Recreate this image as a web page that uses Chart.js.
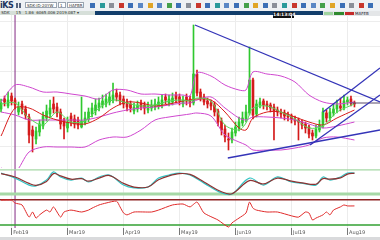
<!DOCTYPE html>
<html>
<head>
<meta charset="utf-8">
<script src="https://cdn.jsdelivr.net/npm/chart.js@4.4.0/dist/chart.umd.min.js"></script>
<style>
  html, body { margin: 0; padding: 0; width: 380px; height: 240px; overflow: hidden; background: #fff; font-family: "DejaVu Sans", Arial, sans-serif; }
  #tb { position: absolute; left: 0; top: 0; width: 380px; height: 11px; background: #eef1f4; }
  #logo { position: absolute; left: 0; top: 1px; font: bold 8px "DejaVu Sans"; color: #1d3560; letter-spacing: -0.5px; }
  .box { position: absolute; top: 2px; height: 6px; background: #fff; border: 1px solid #9aa4b0; font: 4px "DejaVu Sans"; line-height: 6px; color: #333; padding-left: 1px; box-sizing: border-box; overflow: hidden; white-space: nowrap; }
  .ic { position: absolute; top: 3px; width: 5px; height: 5px; }
  #row2 { position: absolute; left: 0; top: 11px; width: 95px; height: 4px; background: #d6dfd9; font: 4px "DejaVu Sans"; line-height: 4px; color: #333; white-space: nowrap; overflow: hidden; }
  #navy { position: absolute; left: 95px; top: 11px; width: 228px; height: 4px; background: #123e6b; }
  #stat { position: absolute; left: 323px; top: 11px; width: 57px; height: 5px; background: #e4e6e8; }
  .sb { position: absolute; top: 1px; height: 3px; }
  #statTxt { position: absolute; left: 355px; top: 11px; font: 4px "DejaVu Sans"; line-height: 5px; color: #223; }
  #clock { position: absolute; left: 273px; top: 12px; width: 21px; height: 6px; background: #111; color: #fff; font: bold 4.5px "DejaVu Sans"; line-height: 6px; text-align: center; }
  canvas { position: absolute; left: 0; }
  #main { top: 15px; }
  #p1 { top: 168px; }
  #p2 { top: 196px; }
  #scroll { position: absolute; left: 0; top: 237px; width: 380px; height: 3px; background: #d9dadc; }
</style>
</head>
<body>
<div id="tb">
  <span id="logo">iKS</span>
  <span class="ic" style="left:16px;width:2px;background:#56637c"></span>
  <span class="ic" style="left:19px;width:2px;background:#56637c"></span>
  <span class="box" style="left:25px;width:32px">SDK-ID-20YW</span>
  <span class="box" style="left:58px;width:8px">1</span>
  <span class="box" style="left:67px;width:17px">HAFBR</span>
</div>
<div id="row2">&nbsp;SDK&nbsp;&nbsp;&nbsp;&nbsp;&nbsp;15&nbsp;&nbsp;&nbsp;1.86&nbsp;&nbsp;6065.006&nbsp;2019.087&nbsp;▾</div>
<div id="navy"></div>
<div id="stat">
  <span class="sb" style="left:1px;width:9px;background:#9fd49f"></span>
  <span class="sb" style="left:11px;width:10px;background:#2f8a2f"></span>
  <span class="sb" style="left:22px;width:9px;background:#c42a2a"></span>
</div>
<div id="statTxt">MAFEB</div>
<div id="clock">14:13:04</div>
<canvas id="main" width="380" height="153"></canvas>
<canvas id="p1" width="380" height="28"></canvas>
<canvas id="p2" width="380" height="41"></canvas>
<div id="scroll"></div>

<script>
// candles, one per bar index
const opens = [25.9, 26.9, 26.2, 27.2, 26.8, 25.6, 26.4, 25.9, 25.1, 23.8,
  22.9, 23.6, 24.2, 25.0, 25.4, 26.4, 26.1, 25.6, 24.8, 24.0,
  25.2, 24.9, 24.8, 24.1, 24.5, 24.9, 25.4, 25.7, 26.0, 26.3,
  26.4, 26.6, 26.8, 27.5, 27.3, 26.9, 26.6, 26.4, 25.7, 25.9,
  26.5, 26.3, 25.8, 26.0, 26.1, 26.2, 26.3, 27.1, 26.5, 26.6,
  27.3, 27.1, 26.4, 27.1, 26.9, 26.5, 29.4, 27.6, 27.1, 26.7,
  26.5, 26.3, 25.7, 24.7, 23.9, 22.9, 22.8, 23.5, 24.0, 24.5,
  24.9, 25.5, 28.8, 25.4, 26.3, 26.7, 26.4, 26.3, 26.1, 25.8,
  25.5, 25.5, 25.3, 25.2, 24.8, 24.8, 24.5, 24.4, 24.1, 23.5,
  23.2, 23.8, 24.2, 25.5, 25.0, 25.5, 25.9, 26.2, 26.0, 26.6,
  26.9, 26.5];
const highs = [26.9, 27.2, 27.6, 27.5, 27.0, 26.6, 26.7, 26.2, 25.4, 24.2,
  24.1, 24.8, 25.6, 26.3, 26.8, 27.1, 26.5, 25.9, 25.0, 25.1,
  25.5, 25.3, 25.1, 27.1, 25.6, 26.0, 26.5, 26.9, 27.0, 27.3,
  27.4, 27.6, 28.5, 27.9, 27.6, 27.2, 26.9, 26.7, 26.5, 26.7,
  26.8, 26.6, 26.6, 26.8, 26.9, 27.1, 27.3, 27.4, 27.3, 27.5,
  27.6, 27.4, 27.2, 27.4, 27.2, 34.3, 29.8, 27.9, 27.4, 27.0,
  26.8, 26.6, 25.9, 25.0, 24.3, 23.5, 24.0, 24.6, 25.1, 25.6,
  26.3, 32.1, 29.0, 26.8, 27.0, 26.9, 26.7, 26.5, 26.4, 26.1,
  25.9, 25.8, 25.6, 25.4, 25.2, 25.0, 24.8, 24.6, 24.3, 23.8,
  24.3, 24.8, 26.0, 25.8, 26.0, 26.4, 26.8, 27.0, 27.3, 27.1,
  27.2, 26.7];
const lows = [25.6, 26.2, 26.0, 26.3, 25.9, 25.3, 25.4, 24.9, 22.5, 21.6,
  22.4, 23.2, 23.9, 24.7, 25.1, 25.5, 25.1, 23.9, 22.9, 23.6,
  24.2, 24.0, 23.9, 24.0, 24.3, 24.6, 25.1, 25.3, 25.7, 26.0,
  26.1, 26.3, 26.5, 26.7, 26.3, 26.0, 25.7, 25.6, 25.4, 25.6,
  25.8, 25.4, 25.5, 25.7, 25.8, 25.9, 26.0, 26.4, 26.2, 26.3,
  26.5, 26.3, 26.1, 26.3, 26.1, 26.3, 27.2, 26.7, 26.3, 26.0,
  25.8, 25.2, 24.2, 23.3, 22.6, 21.8, 22.5, 23.2, 23.7, 24.2,
  24.6, 25.3, 24.9, 25.1, 26.0, 25.9, 25.8, 25.6, 22.8, 25.2,
  25.0, 24.8, 24.7, 24.5, 24.3, 22.8, 23.9, 23.5, 23.0, 22.8,
  23.0, 23.6, 24.0, 24.6, 24.7, 25.2, 25.5, 25.7, 25.8, 26.3,
  26.2, 26.1];
const closes = [26.5, 26.6, 26.8, 26.7, 26.3, 26.1, 25.8, 25.3, 23.3, 23.2,
  23.7, 24.4, 25.2, 25.7, 26.0, 25.9, 25.5, 24.4, 24.2, 24.6,
  24.7, 24.4, 24.3, 24.7, 25.0, 25.6, 26.0, 26.3, 26.5, 26.7,
  26.9, 27.1, 27.3, 27.1, 26.7, 26.4, 26.1, 26.0, 26.1, 26.3,
  26.1, 26.0, 26.2, 26.3, 26.4, 26.6, 26.8, 26.8, 26.9, 27.0,
  26.9, 26.7, 26.8, 26.7, 26.5, 29.4, 27.5, 27.0, 26.6, 26.4,
  26.2, 25.6, 24.6, 23.8, 23.1, 22.8, 23.6, 24.1, 24.6, 25.0,
  25.6, 28.8, 25.3, 26.4, 26.6, 26.3, 26.2, 26.0, 25.7, 25.6,
  25.4, 25.2, 25.1, 24.9, 24.7, 24.6, 24.3, 24.0, 23.4, 23.2,
  23.9, 24.3, 25.6, 25.0, 25.6, 25.9, 26.3, 26.0, 26.7, 26.8,
  26.5, 26.4];

// month separators (bar index) and their labels
const monthIdx = [3, 19, 35, 51, 67, 83, 99];
const monthLabels = ['Feb19', 'Mar19', 'Apr19', 'May19', 'Jun19', 'Jul19', 'Aug19'];
const priceGrid = [22.1, 24.6, 27.1, 29.6, 32.1, 34.6];

// overlays sampled at these bar indices
const bandIdx = [0, 4, 8, 12, 16, 20, 24, 28, 32, 36, 40, 44, 48, 52, 54, 56, 60, 64, 68, 70, 72, 76, 80, 84, 88, 92, 96, 101];
const upperBand = [26.6, 28.3, 28.1, 27.6, 27.6, 27.4, 27.2, 26.9, 27.8, 27.8, 27.4, 27.4, 27.3, 27.3, 27.2, 29.5, 29.2, 28.3, 27.8, 27.8, 29.6, 29.4, 29.2, 28.6, 27.3, 26.6, 26.4, 26.6];
const midBand = [25.6, 25.3, 24.8, 24.8, 24.8, 24.8, 24.8, 25.1, 25.5, 25.8, 26.0, 26.1, 26.3, 26.5, 26.5, 26.8, 27.1, 26.0, 25.0, 24.8, 25.1, 25.1, 25.0, 24.8, 24.4, 24.0, 24.2, 24.6];
const lowerBand = [20.0, 19.6, 21.6, 22.1, 22.1, 22.1, 22.1, 22.8, 23.1, 23.1, 23.8, 24.8, 25.1, 25.3, 25.4, 25.5, 25.2, 23.3, 22.6, 22.3, 21.8, 21.8, 21.8, 22.0, 22.3, 23.0, 23.1, 22.8];
const maSlow = [23.2, 26.0, 26.0, 25.3, 24.8, 24.5, 24.4, 25.0, 26.0, 26.6, 26.5, 26.2, 26.4, 26.7, 26.8, 26.9, 26.8, 25.6, 24.0, 23.8, 25.0, 25.6, 25.6, 25.1, 24.6, 24.3, 25.0, 25.8];
const maFast = [26.4, 26.5, 25.0, 24.3, 25.6, 24.6, 24.7, 26.0, 26.8, 26.5, 26.2, 26.3, 26.7, 26.8, 26.7, 27.0, 26.7, 24.3, 23.8, 24.5, 26.0, 26.2, 25.6, 24.9, 24.0, 24.2, 25.6, 26.4];

// hand drawn trend lines [bar index, price]
const trendDown = [[55.4, 34.3], [108.3, 26.6]];
const trendSupport = [[64.8, 21.0], [108.3, 23.8]];
const channelLow = [[88.3, 22.3], [108.3, 27.3]];
const channelHigh = [[92.0, 25.6], [108.3, 30.0]];
const levelLine = [[99.7, 26.5], [108.3, 26.5]];
const cursorIdx = 4;

// stochastic panel
const stochIdx = [0, 4, 8, 10, 13, 15, 17, 20, 23, 25, 28, 31, 35, 38, 42, 45, 48, 51, 54, 58, 63, 66, 71, 75, 79, 83, 86, 90, 92, 94, 97, 99, 101];
const stochK = [82, 64, 39, 36, 57, 86, 68, 57, 64, 50, 68, 75, 39, 29, 32, 64, 75, 82, 75, 46, 11, 7, 64, 39, 68, 50, 46, 39, 68, 57, 68, 82, 82];
const stochD = [80, 68, 45, 38, 52, 80, 72, 60, 62, 53, 64, 73, 45, 32, 32, 58, 72, 80, 77, 50, 15, 8, 55, 43, 64, 53, 47, 42, 62, 60, 65, 78, 82];
const stochLevels = [93, 7];

// lower oscillator panel
const oscIdx = [0, 3, 4, 6, 8, 9, 10, 11, 13, 14, 15, 17, 18, 20, 23, 25, 26, 28, 30, 33, 34, 35, 36, 38, 43, 45, 49, 52, 54, 56, 58, 62, 65, 66, 68, 70, 71, 72, 73, 76, 79, 83, 85, 87, 88, 89, 90, 92, 93, 94, 95, 97, 98, 99, 101];
const oscVals = [87, 87, 78, 72, 34, 50, 31, 41, 56, 50, 66, 34, 50, 56, 50, 56, 62, 72, 78, 84, 66, 47, 41, 50, 50, 56, 72, 75, 66, 81, 47, 25, 3, 16, 31, 47, 81, 62, 56, 50, 50, 38, 34, 50, 47, 25, 31, 41, 50, 41, 56, 66, 72, 69, 69];
const oscLevels = [88, 9];

const X_MIN = -0.3, X_MAX = 108.3;

// toolbar icons (decoration)
const iconCols = ['#3b6fb6', '#2a9a9a', '#8a8f99', '#c8372d', '#3b6fb6', '#5a87c5', '#e0a526', '#5a87c5', '#44a04a', '#3b6fb6',
  '#8a8f99', '#c8372d', '#3b6fb6', '#2a9a9a', '#5a87c5', '#3b6fb6', '#44a04a', '#e0a526', '#3b6fb6', '#8a8f99',
  '#2a9a9a', '#c8372d', '#3b6fb6', '#5a87c5', '#44a04a', '#e0a526', '#3b6fb6', '#8a8f99', '#c8372d', '#3b6fb6'];
const tb = document.getElementById('tb');
iconCols.forEach((c, k) => {
  const s = document.createElement('span');
  s.className = 'ic';
  s.style.left = (90 + k * 9.6) + 'px';
  s.style.background = c;
  tb.appendChild(s);
});

function pts(idx, vals) {
  return idx.map((x, k) => ({ x: x, y: vals[k] }));
}
function seg(p) {
  return p.map(q => ({ x: q[0], y: q[1] }));
}
function flat(v) {
  return [{ x: X_MIN, y: v }, { x: X_MAX, y: v }];
}
function lineDs(data, color, width, order, tension) {
  return {
    type: 'line', data: data, borderColor: color, borderWidth: width,
    pointRadius: 0, tension: tension || 0, fill: false, order: order
  };
}

function xScale(withLabels) {
  return {
    type: 'linear', min: X_MIN, max: X_MAX, offset: false,
    afterBuildTicks: s => { s.ticks = monthIdx.map(v => ({ value: v })); },
    grid: { color: '#ececec', drawTicks: withLabels, tickLength: 7, tickColor: '#777', offset: false },
    border: { display: false },
    ticks: {
      display: withLabels, autoSkip: false, maxRotation: 0, align: 'start', padding: -5,
      color: '#555', font: { size: 5, family: 'DejaVu Sans' },
      callback: (v, i) => ' ' + monthLabels[i]
    },
    afterFit: withLabels ? s => { s.height = 9; } : undefined
  };
}

const common = {
  responsive: false, animation: false, devicePixelRatio: 1, events: [],
  layout: { padding: 0 },
  plugins: { legend: { display: false }, tooltip: { enabled: false } }
};

const candleCol = closes.map((c, i) => c >= opens[i] ? '#2fc82f' : '#d41a1a');
const bodies = closes.map((c, i) => ({ x: i, y: [Math.min(opens[i], c), Math.max(opens[i], c)] }));
const wicks = closes.map((c, i) => ({ x: i, y: [lows[i], highs[i]] }));

new Chart(document.getElementById('main'), {
  type: 'bar',
  data: {
    datasets: [
      lineDs(seg(trendDown), '#3434b8', 1.3, 0),
      lineDs(seg(trendSupport), '#3434b8', 1.3, 0),
      lineDs(seg(channelLow), '#3434b8', 1.3, 0),
      lineDs(seg(channelHigh), '#3434b8', 1.3, 0),
      lineDs(seg(levelLine), '#5a4a6a', 1, 0),
      lineDs(pts(bandIdx, maFast), '#5ad85a', 1, 1, 0.3),
      lineDs(pts(bandIdx, maSlow), '#d81c1c', 1, 1, 0.3),
      lineDs(pts(bandIdx, upperBand), '#cf47cf', 1, 2, 0.3),
      lineDs(pts(bandIdx, midBand), '#cf47cf', 1, 2, 0.3),
      lineDs(pts(bandIdx, lowerBand), '#cf47cf', 1, 2, 0.3),
      { type: 'bar', data: bodies, backgroundColor: candleCol, barThickness: 2, grouped: false, order: 3 },
      { type: 'bar', data: wicks, backgroundColor: candleCol, barThickness: 1, grouped: false, order: 4 },
      lineDs([{ x: cursorIdx, y: 20 }, { x: cursorIdx, y: 35.3 }], '#842a84', 1, 5)
    ]
  },
  options: Object.assign({}, common, {
    scales: {
      x: xScale(false),
      y: {
        min: 20, max: 35.3,
        afterBuildTicks: s => { s.ticks = priceGrid.map(v => ({ value: v })); },
        ticks: { display: false },
        grid: { color: '#ededed', drawTicks: false },
        border: { display: false }
      }
    }
  })
});

new Chart(document.getElementById('p1'), {
  type: 'line',
  data: {
    datasets: [
      lineDs(pts(stochIdx, stochD), '#8e3232', 1.2, 0, 0.35),
      lineDs(pts(stochIdx, stochK), '#33c4c4', 1.2, 1, 0.35),
      lineDs(flat(stochLevels[0]), '#a6d8a6', 1.2, 2),
      lineDs(flat(stochLevels[1]), '#a6d8a6', 3, 2),
      lineDs([{ x: cursorIdx, y: 0 }, { x: cursorIdx, y: 100 }], '#842a84', 1, 3)
    ]
  },
  options: Object.assign({}, common, {
    scales: {
      x: xScale(false),
      y: { min: 0, max: 100, display: false }
    }
  })
});

new Chart(document.getElementById('p2'), {
  type: 'line',
  data: {
    datasets: [
      lineDs(pts(oscIdx, oscVals), '#e02a2a', 1, 0, 0.2),
      lineDs(flat(oscLevels[0]), '#8e2323', 1.5, 1),
      lineDs(flat(oscLevels[1]), '#32a032', 1.5, 1),
      lineDs([{ x: cursorIdx, y: 0 }, { x: cursorIdx, y: 100 }], '#842a84', 1, 2)
    ]
  },
  options: Object.assign({}, common, {
    scales: {
      x: xScale(true),
      y: { min: 0, max: 100, display: false }
    }
  })
});
</script>
</body>
</html>
